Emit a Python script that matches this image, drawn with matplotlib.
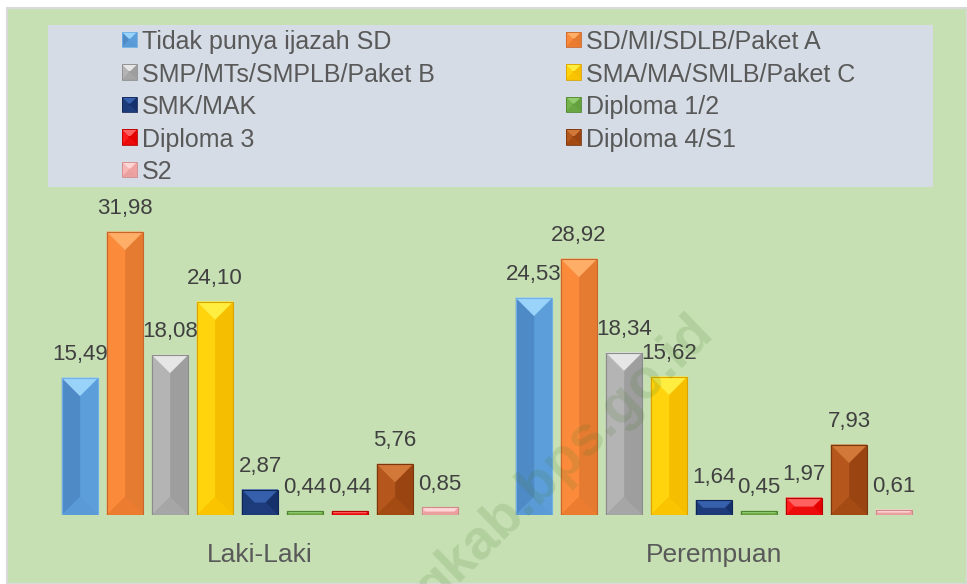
import matplotlib
matplotlib.use('Agg')
import matplotlib.pyplot as plt
from matplotlib.patches import Rectangle, Polygon
import numpy as np

plt.rcParams['font.family'] = ['Liberation Sans', 'DejaVu Sans']

# ---------------- data ----------------
categories = ['Laki-Laki', 'Perempuan']
series = ['Tidak punya ijazah SD', 'SD/MI/SDLB/Paket A', 'SMP/MTs/SMPLB/Paket B',
          'SMA/MA/SMLB/Paket C', 'SMK/MAK', 'Diploma 1/2', 'Diploma 3',
          'Diploma 4/S1', 'S2']
laki = [15.49, 31.98, 18.08, 24.10, 2.87, 0.44, 0.44, 5.76, 0.85]
perempuan = [24.53, 28.92, 18.34, 15.62, 1.64, 0.45, 1.97, 7.93, 0.61]

# facet colours: (left, right/base, top, bottom, edge)
styles = [
    ('#4E8AC6', '#5C9EDA', '#9AD3FA', '#5A9AD6', '#6FAEE6'),
    ('#FB8B3B', '#E57A31', '#FFAE68', '#EC7C30', '#C9642A'),
    ('#B4B4B4', '#9E9E9E', '#E6E6E6', '#A6A6A6', '#8C8C8C'),
    ('#FFD40C', '#F6BE00', '#FFEE40', '#FBC400', '#D9A400'),
    ('#1C3B79', '#16306B', '#3660AB', '#1E3C7C', '#102556'),
    ('#76B24C', '#64A03E', '#92CC6E', '#6AA644', '#4E8530'),
    ('#FF1C1C', '#E40000', '#FF6060', '#EC0C0C', '#B80000'),
    ('#B5561C', '#9A4511', '#D27838', '#A44B14', '#7A360C'),
    ('#F8B6B6', '#F0A2A2', '#FFD6D6', '#EBA0A0', '#D08888'),
]

W, H = 967, 584
fig = plt.figure(figsize=(W / 100, H / 100), dpi=100)
fig.patch.set_facecolor('white')


def fx(px):
    return px / W


def fy(py):
    return 1 - py / H


# green panel
fig.patches.append(Rectangle((fx(7), 0), 1 - fx(7), fy(8), transform=fig.transFigure,
                             facecolor='#C6E0B4', edgecolor='#D9D9D9', lw=1.5, zorder=-2))
# legend panel
fig.patches.append(Rectangle((fx(48), fy(187)), fx(933) - fx(48), (187 - 25) / H,
                             transform=fig.transFigure, facecolor='#D6DCE5',
                             edgecolor='none', zorder=-1))


def facets(x0, y0, w, h, dx, dy):
    bl, br, tr, tl = (x0, y0), (x0 + w, y0), (x0 + w, y0 + h), (x0, y0 + h)
    ibl, ibr = (x0 + dx, y0 + dy), (x0 + w - dx, y0 + dy)
    itr, itl = (x0 + w - dx, y0 + h - dy), (x0 + dx, y0 + h - dy)
    return {'left': [bl, tl, itl, ibl], 'top': [tl, tr, itr, itl],
            'bottom': [bl, br, ibr, ibl]}


# ---------------- axes ----------------
ax_left, ax_base, ax_w, ax_h = 33, 515, 908, 310
ax = fig.add_axes([fx(ax_left), fy(ax_base), ax_w / W, ax_h / H])
ax.set_zorder(1)
ax.set_xlim(-0.5, 1.5)
ax.set_ylim(0, 35)
ax.axis('off')
ax.patch.set_alpha(0)
pxx = ax_w / 2.0
pxy = ax_h / 35.0

slot = 45 / 454
bw = 36 / 454
x = np.arange(len(categories))

for j, name in enumerate(series):
    left_c, base_c, top_c, bot_c, edge_c = styles[j]
    vals = [laki[j], perempuan[j]]
    bars = ax.bar(x + (j - 4) * slot, vals, width=bw, color=base_c,
                  edgecolor='none', zorder=2)
    for b, v in zip(bars, vals):
        x0, w, h = b.get_x(), b.get_width(), b.get_height()
        d = min(w * pxx, h * pxy) / 2
        f = facets(x0, 0, w, h, d / pxx, d / pxy)
        for key, col in (('left', left_c), ('bottom', bot_c), ('top', top_c)):
            ax.add_patch(Polygon(f[key], closed=True, facecolor=col, edgecolor=col,
                                 lw=0.3, zorder=2.1))
        ax.add_patch(Rectangle((x0, 0), w, h, fill=False, edgecolor=edge_c,
                               lw=0.8, zorder=2.2))
        ax.annotate(f'{v:.2f}'.replace('.', ','), (b.get_x() + w / 2, h),
                    xytext=(0, 12.8), textcoords='offset points', ha='center',
                    va='baseline', fontsize=16, color='#404040', zorder=4,
                    annotation_clip=False)

for xi, cat in zip(x, categories):
    ax.annotate(cat, (xi, 0), xytext=(0, -33.8), textcoords='offset points',
                ha='center', va='baseline', fontsize=19, color='#595959',
                annotation_clip=False)

# ---------------- legend ----------------
baselines = [49, 81.5, 114, 146.5, 179]
col_marker = [122, 566]
for j, name in enumerate(series):
    row, col = j // 2, j % 2
    left_c, base_c, top_c, bot_c, edge_c = styles[j]
    mx, bl = col_marker[col], baselines[row]
    x0, y0, s = fx(mx), fy(bl - 2), 15
    w, h = s / W, s / H
    fig.patches.append(Rectangle((x0, y0), w, h, transform=fig.transFigure,
                                 facecolor=base_c, edgecolor='none', zorder=2))
    f = facets(x0, y0, w, h, (s / 2 - 1) / W, (s / 2 - 1) / H)
    for key, colr in (('left', left_c), ('bottom', bot_c), ('top', top_c)):
        fig.patches.append(Polygon(f[key], closed=True, transform=fig.transFigure,
                                   facecolor=colr, edgecolor='none', zorder=2.1))
    fig.patches.append(Rectangle((x0, y0), w, h, transform=fig.transFigure,
                                 fill=False, edgecolor=edge_c, lw=0.6, zorder=2.2))
    fig.text(fx(mx + 20), fy(bl), name, ha='left', va='baseline', fontsize=18,
             color='#595959', zorder=3)

# watermark
fig.text(fx(565), fy(460), 'gkab.bps.go.id', rotation=44, rotation_mode='anchor',
         ha='center', va='center', fontsize=40, fontweight='bold',
         color='#4A7A2A', alpha=0.16, zorder=5)

fig.savefig('out.png', dpi=100)
